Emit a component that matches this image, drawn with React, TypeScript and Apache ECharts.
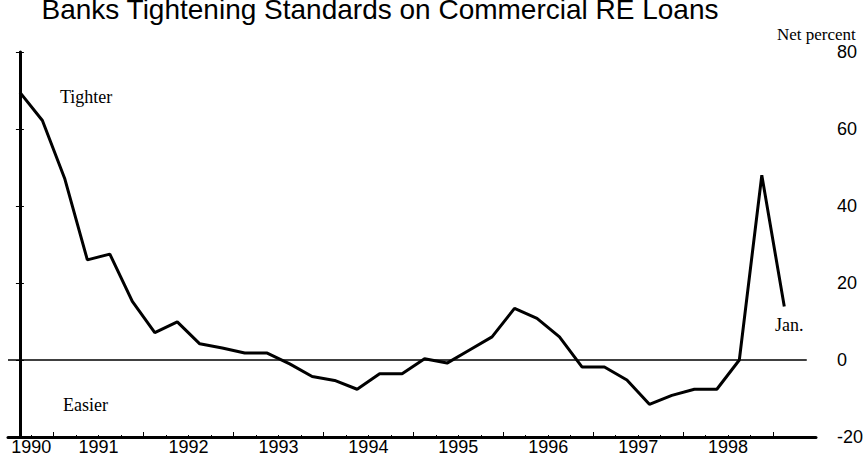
import React, { useEffect, useRef } from "react";
import * as echarts from "echarts";

const periods = [
  "1990 Q3", "1990 Q4",
  "1991 Q1", "1991 Q2", "1991 Q3", "1991 Q4",
  "1992 Q1", "1992 Q2", "1992 Q3", "1992 Q4",
  "1993 Q1", "1993 Q2", "1993 Q3", "1993 Q4",
  "1994 Q1", "1994 Q2", "1994 Q3", "1994 Q4",
  "1995 Q1", "1995 Q2", "1995 Q3", "1995 Q4",
  "1996 Q1", "1996 Q2", "1996 Q3", "1996 Q4",
  "1997 Q1", "1997 Q2", "1997 Q3", "1997 Q4",
  "1998 Q1", "1998 Q2", "1998 Q3", "1998 Q4",
  "1999 Q1",
];

const netPercent = [
  69.5, 62.2, 47, 26, 27.5, 15.2, 7.1, 9.9, 4.2, 3.1, 1.8, 1.8, -1, -4.3,
  -5.3, -7.6, -3.6, -3.6, 0.3, -0.8, 2.6, 6.0, 13.4, 10.8, 6.0, -1.8, -1.8,
  -5.2, -11.5, -9.2, -7.6, -7.6, 0, 48, 13.9,
];

const yearLabels = ["1990", "1991", "1992", "1993", "1994", "1995", "1996", "1997", "1998"];

const TITLE = "Banks Tightening Standards on Commercial RE Loans";
const UNIT = "Net percent";
const TIGHTER = "Tighter";
const EASIER = "Easier";
const LAST_NOTE = "Jan.";

const X_MIN = -0.53;
const X_MAX = 35.41;

export default function App() {
  const ref = useRef<HTMLDivElement>(null);

  useEffect(() => {
    if (!ref.current) return;
    const chart = echarts.init(ref.current, null, { renderer: "svg" });

    const yearCenters = yearLabels.map((y) => {
      const idx = periods
        .map((p, i) => (p.startsWith(y) ? i : -1))
        .filter((i) => i >= 0);
      return idx.reduce((a, b) => a + b, 0) / idx.length;
    });
    const yearBounds: number[] = [];
    const quarterBounds: number[] = [];
    for (let i = 0; i < periods.length - 1; i++) {
      quarterBounds.push(i + 0.5);
      if (periods[i].slice(0, 4) !== periods[i + 1].slice(0, 4)) yearBounds.push(i + 0.5);
    }

    const data = netPercent.map((v, i) => [i, v]);
    const serif = "'Liberation Serif', 'Times New Roman', serif";
    const sans = "'Liberation Sans', Arial, sans-serif";

    chart.setOption({
      animation: false,
      backgroundColor: "#fff",
      grid: { left: 8, right: 43, top: 52, bottom: 24 },
      xAxis: [
        {
          type: "value",
          min: X_MIN,
          max: X_MAX,
          axisLine: { show: true, onZero: false, lineStyle: { color: "#000", width: 3 } },
          axisTick: {
            show: true,
            inside: true,
            length: 5,
            customValues: yearBounds,
            lineStyle: { color: "#000", width: 1 },
          },
          axisLabel: {
            customValues: yearCenters,
            formatter: (v: number) => {
              let best = 0;
              yearCenters.forEach((c, i) => {
                if (Math.abs(c - v) < Math.abs(yearCenters[best] - v)) best = i;
              });
              return yearLabels[best];
            },
            fontFamily: sans,
            fontSize: 18,
            color: "#000",
            margin: 1,
          },
          splitLine: { show: false },
        },
        {
          type: "value",
          min: X_MIN,
          max: X_MAX,
          position: "bottom",
          axisLine: { show: false, onZero: false },
          axisTick: {
            show: true,
            inside: true,
            length: 2,
            customValues: quarterBounds,
            lineStyle: { color: "#000", width: 1 },
          },
          axisLabel: { show: false },
          splitLine: { show: false },
        },
      ],
      yAxis: [
        {
          type: "value",
          position: "left",
          min: -20,
          max: 80,
          interval: 20,
          axisLine: { show: true, lineStyle: { color: "#000", width: 2 } },
          axisTick: { show: true, inside: true, length: 4, lineStyle: { color: "#000", width: 1 } },
          axisLabel: { show: false },
          splitLine: { show: false },
        },
        {
          type: "value",
          position: "right",
          min: -20,
          max: 80,
          interval: 20,
          axisLine: { show: true, lineStyle: { color: "#000", width: 3 } },
          axisTick: { show: true, inside: true, length: 4, lineStyle: { color: "#000", width: 1 } },
          axisLabel: { fontFamily: sans, fontSize: 18, color: "#000", margin: 21 },
          splitLine: { show: false },
        },
      ],
      series: [
        {
          type: "line",
          xAxisIndex: 0,
          yAxisIndex: 1,
          data,
          symbol: "none",
          lineStyle: { color: "#000", width: 3 },
          markLine: {
            silent: true,
            symbol: "none",
            label: { show: false },
            lineStyle: { color: "#000", width: 1.5, type: "solid" },
            data: [[{ coord: [X_MIN, 0] }, { coord: [35, 0] }]],
          },
        },
      ],
      graphic: [
        {
          type: "text",
          x: 380,
          y: 9,
          style: {
            text: TITLE,
            font: `28px ${sans}`,
            fill: "#000",
            align: "center",
            verticalAlign: "middle",
          },
        },
        {
          type: "text",
          x: 777,
          y: 34,
          style: { text: UNIT, font: `17px ${serif}`, fill: "#000", align: "left", verticalAlign: "middle" },
        },
        {
          type: "text",
          x: 60,
          y: 97,
          style: { text: TIGHTER, font: `18px ${serif}`, fill: "#000", align: "left", verticalAlign: "middle" },
        },
        {
          type: "text",
          x: 63,
          y: 405,
          style: { text: EASIER, font: `18px ${serif}`, fill: "#000", align: "left", verticalAlign: "middle" },
        },
        {
          type: "text",
          x: 775,
          y: 325,
          style: { text: LAST_NOTE, font: `18px ${serif}`, fill: "#000", align: "left", verticalAlign: "middle" },
        },
      ],
    });

    return () => chart.dispose();
  }, []);

  return <div ref={ref} style={{ width: 866, height: 461, position: "absolute", left: 0, top: 0 }} />;
}
